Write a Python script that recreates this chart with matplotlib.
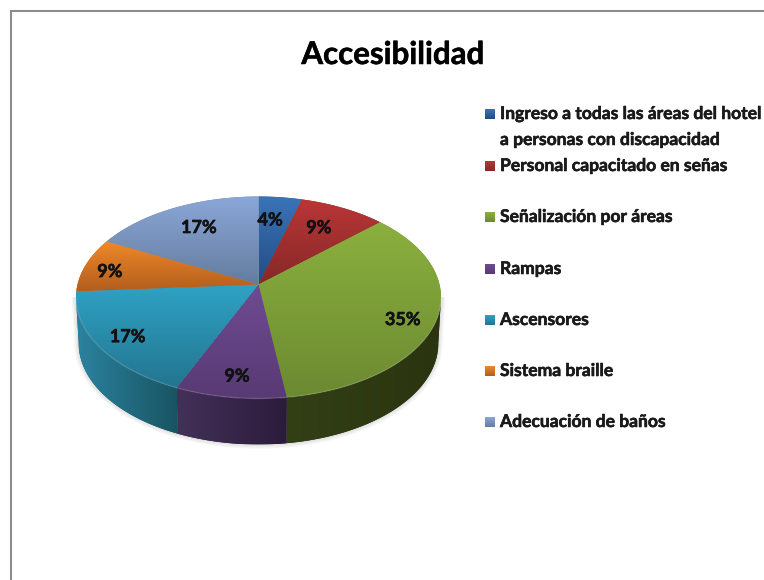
import numpy as np
import matplotlib
matplotlib.use('Agg')
import matplotlib.pyplot as plt
import matplotlib.patheffects as pe
from matplotlib.colors import to_rgb
from matplotlib.patches import Polygon

plt.rcParams['font.family'] = ['Lato', 'DejaVu Sans']

# counts behind the percentages (23 answers)
categories = ['Ingreso a todas las áreas del hotel\na personas con discapacidad',
              'Personal capacitado en señas', 'Señalización por áreas', 'Rampas',
              'Ascensores', 'Sistema braille', 'Adecuación de baños']
counts = [1, 2, 8, 2, 4, 2, 4]
percent_labels = ['4%', '9%', '35%', '9%', '17%', '9%', '17%']

top_light = ['#3a74b8', '#ba3636', '#8bb03e', '#6f4b92', '#2fa2c4', '#f08828', '#8ba7d8']
top_dark = ['#234c84', '#872828', '#6c8a32', '#583a74', '#237590', '#b25e1e', '#647d9e']
wall_left = ['#2a5a90', '#8a2b2b', '#333f15', '#433158', '#2b83a0', '#b0601c', '#6a84a8']
wall_right = ['#1b3a60', '#5a1c1c', '#2a3510', '#2b1b3b', '#195462', '#70400f', '#45566e']
legend_rows = [113, 165, 216, 268, 319, 370, 421]
label_radius = [0.73, 0.73, 0.83, 0.82, 0.83, 0.85, 0.73]
label_turn = [-2.3, -1.7, 3.4, -0.4, 0, -1.7, 2.1]

# pie geometry in pixels, k is the perspective of the tilted disc
cx, cy = 258.5, 284.5
a, b, k = 181, 99.3, 0.1287
depth = 46
bottom_scale = 0.985
edge_limit = np.degrees(np.arccos(-k))
heavy = [pe.withStroke(linewidth=0.4, foreground='#111111')]


def project(theta, r=1.0):
    # theta in degrees, clockwise from 12 o'clock
    t = np.radians(theta)
    u, v = r * np.sin(t), r * np.cos(t)
    w = 1 + k * v
    return cx + a * u / w, cy - b * v / w


def ramp(xy, c0, c1, vertical, z):
    # polygon filled with a two colour gradient
    patch = Polygon(xy, closed=True, fc=c1, ec='none', zorder=z)
    ax.add_patch(patch)
    x0, y0 = xy.min(axis=0)
    x1, y1 = xy.max(axis=0)
    s = np.linspace(0, 1, 64)[:, None, None]
    arr = (1 - s) * np.array(to_rgb(c0))[None, None, :] + s * np.array(to_rgb(c1))[None, None, :]
    if not vertical:
        arr = arr.transpose(1, 0, 2)
    im = ax.imshow(arr, extent=(x0, x1, y1, y0), aspect='auto', interpolation='bilinear', zorder=z + 0.1)
    im.set_clip_path(patch)


fig = plt.figure(figsize=(7.64, 5.8), dpi=100)
ax = fig.add_axes([0, 0, 1, 1])
ax.axis('off')

# chart frame, open on the right and at the bottom
ax.plot([11, 11, 764], [580, 11, 11], color='#8c8c8c', lw=1.5, solid_joinstyle='miter', zorder=1)

edges = 360 * np.cumsum([0] + counts) / sum(counts)

# soft shadow round the wall
ts = np.linspace(edge_limit, 360 - edge_limit, 120)
sx, sy = project(ts)
sil = np.r_[np.c_[sx, sy], np.c_[cx + (sx - cx)[::-1] * bottom_scale, sy[::-1] + depth]]
for lw in [6, 4, 2]:
    ax.add_patch(Polygon(sil, closed=True, fc='none', ec='#777777', alpha=0.07, lw=lw, zorder=2))

# walls, only the part that faces the viewer
for i in range(len(counts)):
    t0, t1 = max(edges[i], edge_limit), min(edges[i + 1], 360 - edge_limit)
    if t1 <= t0:
        continue
    ts = np.linspace(t0, t1, 80)
    x, y = project(ts)
    xb = cx + (x - cx) * bottom_scale
    xy = np.r_[np.c_[x, y], np.c_[xb[::-1], y[::-1] + depth]]
    ramp(xy, wall_left[i], wall_right[i], False, 3)

# top of the pie
for i in range(len(counts)):
    ts = np.linspace(edges[i], edges[i + 1], 100)
    x, y = project(ts)
    xy = np.r_[[[cx, cy]], np.c_[x, y]]
    ramp(xy, top_light[i], top_dark[i], True, 5)
    # thin light bevel, only on the front rim
    t0, t1 = max(edges[i], edge_limit), min(edges[i + 1], 360 - edge_limit)
    if t1 > t0:
        ts = np.linspace(t0, t1, 60)
        ax.plot(*project(ts), color='white', alpha=0.15, lw=1.0, zorder=6, solid_capstyle='butt')

# percent labels
for i, lab in enumerate(percent_labels):
    mid = (edges[i] + edges[i + 1]) / 2 + label_turn[i]
    lx, ly = project(mid, label_radius[i])
    ax.text(lx, ly + 1.5, lab, ha='center', va='center', fontsize=13, fontweight='bold',
            color='#111111', zorder=8, path_effects=heavy)

ax.text(393, 55, 'Accesibilidad', ha='center', va='center', fontsize=22.5, fontweight='bold',
        color='black', path_effects=heavy)

# legend
for i, name in enumerate(categories):
    ym = legend_rows[i]
    sq = np.array([[485, ym - 4], [495, ym - 4], [495, ym + 6], [485, ym + 6]], dtype=float)
    ramp(sq, top_light[i], top_dark[i], True, 5)
    lines = name.split('\n')
    ax.text(500, ym + 1, lines[0], ha='left', va='center', fontsize=12.6, fontweight='bold',
            color='#1a1a1a', path_effects=heavy)
    if len(lines) > 1:
        ax.text(500, ym + 27, lines[1], ha='left', va='center', fontsize=12.6, fontweight='bold',
                color='#1a1a1a', path_effects=heavy)

ax.set_xlim(0, 764)
ax.set_ylim(580, 0)
fig.savefig('out.png', dpi=100)
